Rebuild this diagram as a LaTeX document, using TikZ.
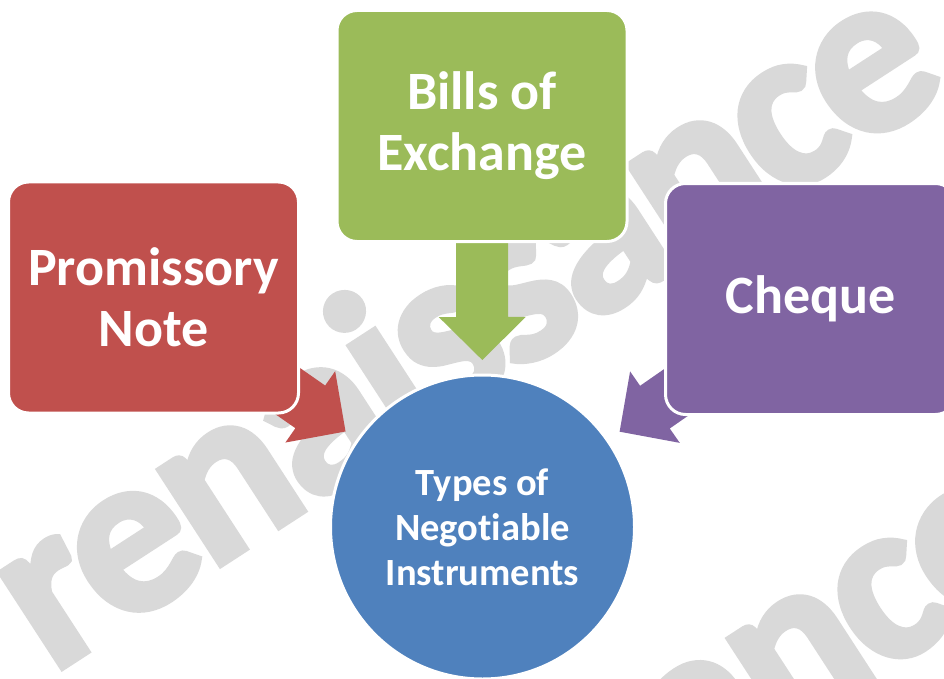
\documentclass[tikz,border=0pt]{standalone}
\usepackage{fontspec}
\setmainfont[Ligatures=NoCommon]{Carlito}
\newfontfamily\wmfont[FakeBold=3]{Carlito}
\usetikzlibrary{calc}
\definecolor{redc}{HTML}{C0504D}
\definecolor{greenc}{HTML}{9BBB59}
\definecolor{purplec}{HTML}{8064A2}
\definecolor{bluec}{HTML}{4F81BD}
\definecolor{wmgray}{HTML}{D9D9D9}
\pgfdeclarelayer{wmlayer}
\pgfdeclarelayer{arrlayer}
\pgfsetlayers{wmlayer,arrlayer,main}
\newcommand\wk{\kern-6pt }
\newcommand\wmword{r\wk e\wk n\wk a\wk i\wk s\wk s\wk a\wk n\wk c\wk e}
\tikzset{
  boxnode/.style={rectangle, rounded corners=20pt, draw=white, line width=3pt,
    minimum width=290pt, minimum height=231pt, text=white, align=center,
    font=\fontsize{54}{61}\selectfont\bfseries},
  hubnode/.style={circle, draw=white, line width=3pt, minimum size=304pt,
    fill=bluec, text=white, align=center,
    font=\fontsize{38.5}{45}\selectfont\bfseries},
  wmtext/.style={text=wmgray, inner sep=0pt, anchor=base west, rotate=33,
    font=\wmfont\fontsize{232}{232}\selectfont\bfseries}
}
\newcommand\blockarrow[3]{%
  \coordinate (T) at ($(#2.center)!167pt!(#1.center)$);
  \coordinate (B) at ($(#2.center)!210pt!(#1.center)$);
  \fill[#3] ($(#1.center)!26pt!90:(B)$) -- ($(B)!26pt!90:(T)$) -- ($(B)!43.5pt!90:(T)$) -- (T)
    -- ($(B)!43.5pt!-90:(T)$) -- ($(B)!26pt!-90:(T)$) -- ($(#1.center)!26pt!-90:(B)$) -- cycle;
}
\begin{document}
\begin{tikzpicture}[x=1pt,y=1pt]
\useasboundingbox (0,0) rectangle (944,-679);
\begin{pgfonlayer}{wmlayer}
  \fill[white] (0,0) rectangle (944,-679);
  \begin{scope}
    \clip (0,0) rectangle (944,-679);
    \node[wmtext] (wm1) at (52,-674) {\wmword};
    \node[wmtext] (wm2) at (152,-1148) {\wmword};
  \end{scope}
\end{pgfonlayer}
\node[boxnode, fill=redc] (pn) at (153.5,-297.5) {Promissory\\Note};
\node[boxnode, fill=greenc] (be) at (482,-126) {Bills of\\Exchange};
\node[boxnode, fill=purplec] (ch) at (810.5,-299) {Cheque};
\node[hubnode] (hub) at (482.5,-527) {Types of\\Negotiable\\Instruments};
\begin{pgfonlayer}{arrlayer}
  \blockarrow{pn}{hub}{redc}
  \blockarrow{be}{hub}{greenc}
  \blockarrow{ch}{hub}{purplec}
\end{pgfonlayer}
\end{tikzpicture}
\end{document}
